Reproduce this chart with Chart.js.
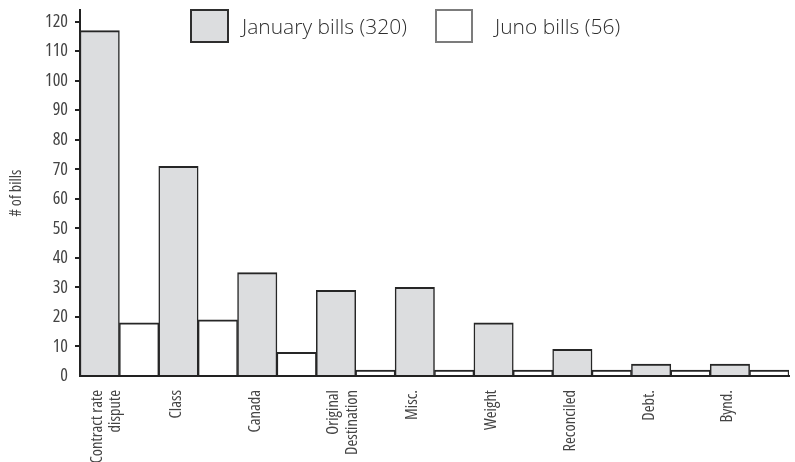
<!DOCTYPE html>
<html>
<head>
<meta charset="utf-8">
<script src="https://cdn.jsdelivr.net/npm/chart.js@4/dist/chart.umd.min.js"></script>
<style>
html,body{margin:0;padding:0;background:#fff;}
#wrap{position:relative;width:795px;height:462px;overflow:hidden;}
#chart{position:absolute;left:0;top:0;}
.lg-box{position:absolute;top:9px;height:30px;box-sizing:content-box;}
.lg-text{position:absolute;top:26px;transform:translateY(-50%);font-family:'Open Sans','Noto Sans',sans-serif;font-weight:300;font-size:21px;color:#2e2e2e;white-space:nowrap;line-height:1;}
</style>
</head>
<body>
<div id="wrap">
  <canvas id="chart" width="795" height="462"></canvas>
  <div class="lg-box" style="left:190px;width:35px;border:2px solid #2e2e2e;background:#dcdddf;"></div>
  <div class="lg-text" id="lg0" style="left:242px;"></div>
  <div class="lg-box" style="left:435px;width:34px;border:2px solid #7c7c7c;background:#ffffff;"></div>
  <div class="lg-text" id="lg1" style="left:495px;"></div>
</div>
<script>
// ---- data ----
const categories = [['Contract rate', 'dispute'], 'Class', 'Canada', ['Original', 'Destination'], 'Misc.', 'Weight', 'Reconciled', 'Debt.', 'Bynd.'];
const januaryBills = [117, 71, 35, 29, 30, 18, 9, 4, 4];
const junoBills = [18, 19, 8, 2, 2, 2, 2, 2, 2];
const seriesLabels = ['January bills (320)', 'Juno bills (56)'];
const yTicks = [0, 10, 20, 30, 40, 50, 60, 70, 80, 90, 100, 110, 120];
const yTitle = '# of bills';

document.getElementById('lg0').textContent = seriesLabels[0];
document.getElementById('lg1').textContent = seriesLabels[1];

const fam = "'Open Sans','Roboto Condensed',sans-serif";
const bw = {left: 1.5, right: 1.5, top: 2, bottom: 0};

new Chart(document.getElementById('chart'), {
  type: 'bar',
  data: {
    labels: categories,
    datasets: [
      {label: seriesLabels[0], data: januaryBills, backgroundColor: '#dcdddf', borderColor: '#262626', borderWidth: bw, categoryPercentage: 1, barPercentage: 1},
      {label: seriesLabels[1], data: junoBills, backgroundColor: '#ffffff', borderColor: '#262626', borderWidth: bw, categoryPercentage: 1, barPercentage: 1}
    ]
  },
  options: {
    responsive: false,
    animation: false,
    devicePixelRatio: 1,
    layout: {padding: {top: 10, right: 6, left: 0, bottom: 0}},
    plugins: {legend: {display: false}, tooltip: {enabled: false}},
    scales: {
      x: {
        grid: {display: false},
        border: {display: true, color: '#222', width: 2},
        ticks: {
          autoSkip: false, maxRotation: 90, minRotation: 90, labelOffset: -22, padding: 6,
          color: '#444', font: {family: fam, weight: 'condensed', size: 16.5, lineHeight: 1.1}
        },
        afterFit(s) { s.height = 86; s.paddingLeft = 0; s.paddingRight = 0; }
      },
      y: {
        min: 0, max: 124,
        afterBuildTicks(s) { s.ticks = yTicks.map(v => ({value: v})); },
        grid: {
          drawOnChartArea: false, drawTicks: true, tickLength: 5, lineWidth: 2,
          color: ctx => (ctx.tick && ctx.tick.value === 0) ? 'rgba(0,0,0,0)' : '#222'
        },
        border: {display: true, color: '#222', width: 2},
        ticks: {padding: 7, color: '#444', font: {family: fam, weight: 'condensed', size: 18}},
        title: {display: true, text: yTitle, color: '#444', font: {family: fam, weight: 'condensed', size: 16}, padding: {top: 7, bottom: 0}},
        afterFit(s) { s.width = 80; s.paddingTop = 0; s.paddingBottom = 0; }
      }
    }
  }
});
</script>
</body>
</html>
